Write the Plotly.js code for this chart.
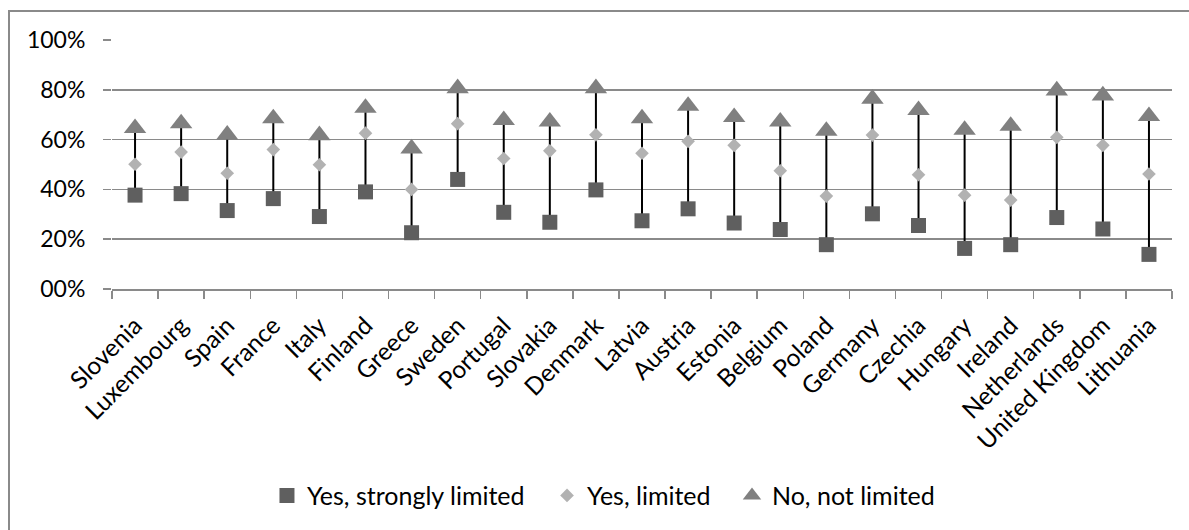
<!DOCTYPE html>
<html>
<head>
<meta charset="utf-8">
<script src="https://cdn.plot.ly/plotly-3.0.1.min.js"></script>
<style>
  html, body { margin: 0; padding: 0; background: #fff; overflow: hidden; }
  #chart { width: 1189px; height: 530px; }
  #frame { position: absolute; left: 8px; top: 10px; width: 1300px; height: 600px;
           border-left: 2px solid #8a8a8a; border-top: 2px solid #8a8a8a; pointer-events: none; }
</style>
</head>
<body>
<div id="chart"></div>
<div id="frame"></div>
<script>
const countries = ["Slovenia","Luxembourg","Spain","France","Italy","Finland","Greece","Sweden",
  "Portugal","Slovakia","Denmark","Latvia","Austria","Estonia","Belgium","Poland","Germany",
  "Czechia","Hungary","Ireland","Netherlands","United Kingdom","Lithuania"];
const strongly = [0.377,0.383,0.315,0.363,0.291,0.390,0.226,0.440,0.308,0.268,0.398,0.274,0.322,0.265,0.239,0.178,0.302,0.255,0.163,0.178,0.287,0.241,0.139];
const limited  = [0.501,0.550,0.465,0.560,0.499,0.626,0.400,0.664,0.524,0.555,0.619,0.545,0.593,0.577,0.475,0.373,0.618,0.459,0.377,0.357,0.609,0.577,0.462];
const notLim   = [0.646,0.665,0.619,0.685,0.617,0.727,0.564,0.806,0.678,0.672,0.806,0.685,0.735,0.690,0.672,0.635,0.764,0.718,0.639,0.655,0.797,0.777,0.694];
const yTickVals = [0,0.2,0.4,0.6,0.8,1.0];
const yTickText = ["00%","20%","40%","60%","80%","100%"];
const seriesNames = ["Yes, strongly limited","Yes, limited","No, not limited"];

// high-low connector lines built from the data
const lx = [], ly = [];
countries.forEach((c,i) => { lx.push(c,c,null); ly.push(strongly[i], notLim[i], null); });

const fam = "Lato, 'Open Sans', sans-serif";
const f = s => ({family: fam, size: s, color: "#000"});

const traces = [
  {x: lx, y: ly, mode: "lines", line: {color: "#000", width: 2}, showlegend: false, hoverinfo: "skip"},
  {x: countries, y: strongly, name: seriesNames[0], mode: "markers", legend: "legend",
   marker: {symbol: "square", size: 15, color: "#5f5f5f"}},
  {x: countries, y: limited, name: seriesNames[1], mode: "markers", legend: "legend2",
   marker: {symbol: "diamond", size: 10.5, color: "#b2b2b2"}},
  {x: countries, y: notLim, name: seriesNames[2], mode: "markers", legend: "legend3",
   marker: {symbol: "triangle-up", size: 19.5, color: "#808080"}}
];

const legBase = {orientation: "h", xanchor: "left", y: -0.83, yanchor: "middle",
                 font: f(25), bgcolor: "rgba(0,0,0,0)", borderwidth: 0};

const layout = {
  width: 1189, height: 530,
  margin: {l: 112, r: 17, t: 40, b: 236},
  paper_bgcolor: "#fff", plot_bgcolor: "#fff",
  font: f(25),
  showlegend: true,
  legend: Object.assign({x: 0.1462}, legBase),
  legend2: Object.assign({x: 0.4104}, legBase),
  legend3: Object.assign({x: 0.5849}, legBase),
  xaxis: {type: "category", tickangle: -45, tickson: "boundaries", ticks: "outside",
          ticklen: 8, tickwidth: 1.5, tickcolor: "#8a8a8a", showline: true, linecolor: "#8a8a8a",
          linewidth: 1.5, showgrid: false, zeroline: false, tickfont: f(24.5), ticklabelstandoff: 11,
          range: [-0.5, countries.length - 0.5], automargin: false},
  yaxis: {range: [0, 1], tickvals: yTickVals, ticktext: yTickText, ticks: "outside", ticklen: 8,
          tickwidth: 1.5, tickcolor: "#8a8a8a", showgrid: true, gridcolor: "#8a8a8a", gridwidth: 1.5,
          zeroline: false, showline: false, tickfont: f(23), ticklabelstandoff: 13, automargin: false},
  hovermode: false
};

Plotly.newPlot("chart", traces, layout, {displayModeBar: false, staticPlot: true});
</script>
</body>
</html>
